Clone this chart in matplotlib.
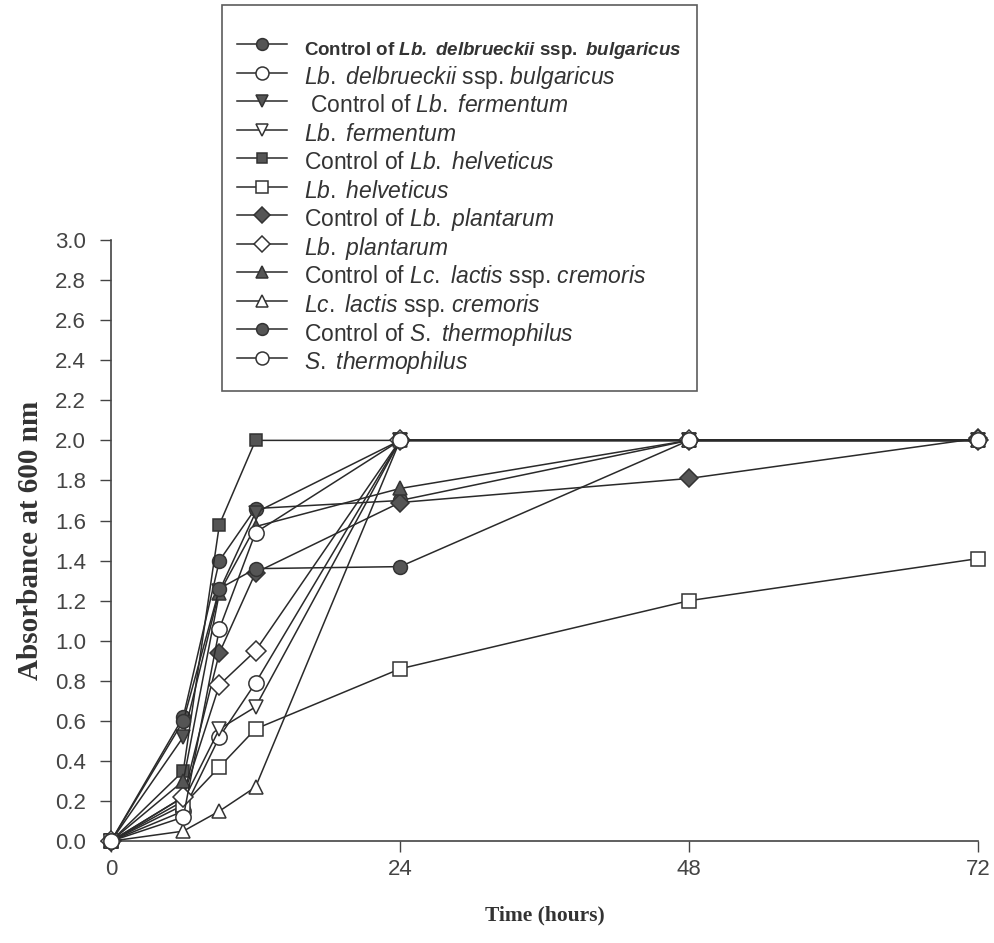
import matplotlib
matplotlib.use('Agg')
import matplotlib.pyplot as plt

plt.rcParams['font.family'] = 'Liberation Sans'
plt.rcParams['mathtext.fontset'] = 'custom'
plt.rcParams['mathtext.rm'] = 'Liberation Sans'
plt.rcParams['mathtext.it'] = 'Liberation Sans:italic'
plt.rcParams['mathtext.bf'] = 'Liberation Sans:bold'
plt.rcParams['mathtext.bfit'] = 'Liberation Sans:italic:bold'

times = [0, 6, 9, 12, 24, 48, 72]

ctrl_delbrueckii = [0, 0.62, 1.40, 1.66, 1.70, 2.00, 2.00]
delbrueckii = [0, 0.15, 0.52, 0.79, 2.00, 2.00, 2.00]
ctrl_fermentum = [0, 0.52, 1.25, 1.64, 2.00, 2.00, 2.00]
fermentum = [0, 0.20, 0.56, 0.67, 2.00, 2.00, 2.00]
ctrl_helveticus = [0, 0.35, 1.58, 2.00, 2.00, 2.00, 2.00]
helveticus = [0, 0.18, 0.37, 0.56, 0.86, 1.20, 1.41]
ctrl_plantarum = [0, 0.22, 0.94, 1.34, 1.69, 1.81, 2.01]
plantarum = [0, 0.22, 0.78, 0.95, 2.00, 2.00, 2.00]
ctrl_lactis = [0, 0.30, 1.24, 1.57, 1.76, 2.00, 2.00]
lactis = [0, 0.05, 0.15, 0.27, 2.00, 2.00, 2.00]
ctrl_thermophilus = [0, 0.60, 1.26, 1.36, 1.37, 2.00, 2.00]
thermophilus = [0, 0.12, 1.06, 1.54, 2.00, 2.00, 2.00]

labels = [
    r'$\mathbf{Control\ of\ }\mathbfit{Lb.\ delbrueckii}\mathbf{\ ssp.\ }\mathbfit{bulgaricus}$',
    r'$\mathit{Lb.\ delbrueckii}$ ssp. $\mathit{bulgaricus}$',
    r' Control of $\mathit{Lb.\ fermentum}$',
    r'$\mathit{Lb.\ fermentum}$',
    r'Control of $\mathit{Lb.\ helveticus}$',
    r'$\mathit{Lb.\ helveticus}$',
    r'Control of $\mathit{Lb.\ plantarum}$',
    r'$\mathit{Lb.\ plantarum}$',
    r'Control of $\mathit{Lc.\ lactis}$ ssp. $\mathit{cremoris}$',
    r'$\mathit{Lc.\ lactis}$ ssp. $\mathit{cremoris}$',
    r'Control of $\mathit{S.\ thermophilus}$',
    r'$\mathit{S.\ thermophilus}$',
]
series = [ctrl_delbrueckii, delbrueckii, ctrl_fermentum, fermentum,
          ctrl_helveticus, helveticus, ctrl_plantarum, plantarum,
          ctrl_lactis, lactis, ctrl_thermophilus, thermophilus]
markers = ['o', 'o', 'v', 'v', 's', 's', 'D', 'D', '^', '^', 'o', 'o']
sizes = [10, 11, 10, 10, 9, 10, 9, 10, 10, 10, 10, 11]

fig = plt.figure(figsize=(9.94, 9.43), dpi=100)
ax = fig.add_axes([0.1117, 0.108, 0.8723, 0.6375])

for i, (y, lab) in enumerate(zip(series, labels)):
    filled = i % 2 == 0
    ax.plot(times, y, color='#2a2a2a', lw=1.1, marker=markers[i],
            markersize=sizes[i], markerfacecolor='#555555' if filled else 'white',
            markeredgecolor='#333333', markeredgewidth=1.1, label=lab,
            clip_on=False, zorder=3)

ax.set_xlim(0, 72)
ax.set_ylim(0, 3.0)
ax.set_xticks([0, 24, 48, 72])
ax.set_yticks([i / 10 for i in range(0, 31, 2)])
ax.set_yticklabels([f'{i / 10:.1f}' for i in range(0, 31, 2)])
ax.spines['top'].set_visible(False)
ax.spines['right'].set_visible(False)
for s in ['left', 'bottom']:
    ax.spines[s].set_color('#444444')
    ax.spines[s].set_linewidth(1.2)
ax.tick_params(labelsize=16, colors='#444444', length=8, width=1)
ax.tick_params(axis='y', pad=10)
ax.tick_params(axis='x', pad=5)

ax.set_xlabel('Time (hours)', fontfamily='Liberation Serif', fontweight='bold',
              fontsize=15.5, color='#333333', labelpad=18)
ax.set_ylabel('Absorbance at 600 nm', fontfamily='Liberation Serif', fontweight='bold',
              fontsize=21, color='#333333', labelpad=8)

# tall handle boxes keep every legend row the same height
leg = fig.legend(loc='upper left', bbox_to_anchor=(0.2233, 0.9947), fontsize=16.5,
                 frameon=True, fancybox=False, edgecolor='#333333',
                 handlelength=2.2, handleheight=1.6, labelspacing=-0.04,
                 borderpad=0.65, handletextpad=0.75, borderaxespad=0,
                 markerscale=0.85, title=' ', title_fontsize=11)
leg.get_frame().set_linewidth(1.2)
for t in leg.get_texts():
    t.set_color('#333333')
leg.get_texts()[0].set_fontsize(13.5)

fig.savefig('out.png', dpi=100)
